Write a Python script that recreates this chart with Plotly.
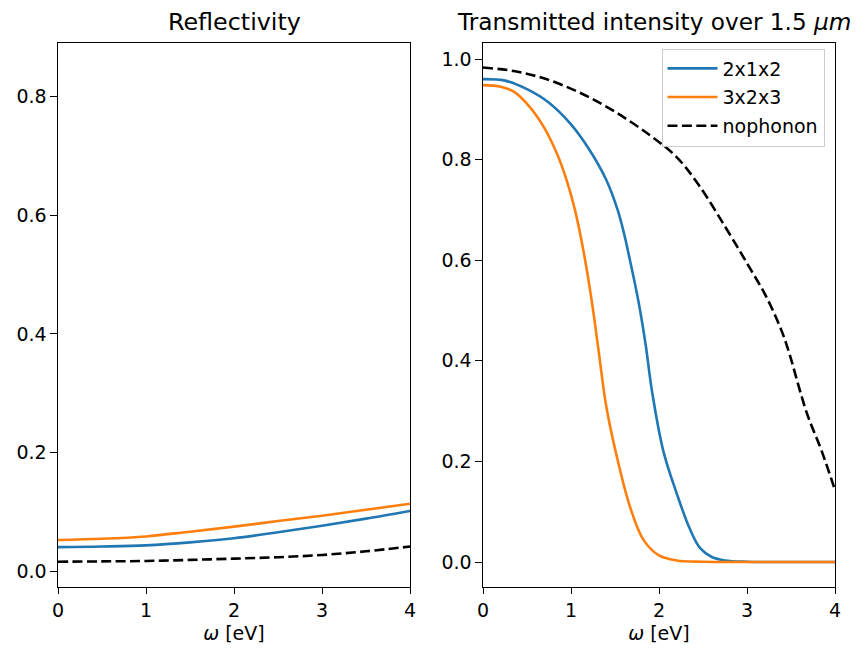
import plotly.graph_objects as go

# ---------------- data ----------------
# Reflectivity (left panel)
refl_x = [0.0, 0.5, 1.0, 1.5, 2.0, 2.5, 3.0, 3.5, 4.0]
refl_2x1x2 = [0.041, 0.042, 0.044, 0.049, 0.056, 0.066, 0.077, 0.089, 0.102]
refl_3x2x3 = [0.053, 0.055, 0.059, 0.067, 0.0755, 0.085, 0.094, 0.104, 0.114]
refl_nophonon = [0.0165, 0.017, 0.0177, 0.0195, 0.0216, 0.024, 0.0278, 0.034, 0.042]

# Transmitted intensity (right panel)
tr_x_2x1x2 = [0.0, 0.25, 0.5, 0.75, 1.0, 1.2, 1.4, 1.53, 1.6, 1.67, 1.77, 1.85, 1.92,
              2.05, 2.2, 2.35, 2.47, 2.6, 2.75, 3.0, 3.5, 4.0]
tr_2x1x2 = [0.960, 0.957, 0.940, 0.913, 0.870, 0.822, 0.760, 0.700, 0.655, 0.60, 0.515,
            0.43, 0.34, 0.22, 0.137, 0.066, 0.027, 0.01, 0.003, 0.0005, 0.0, 0.0]

tr_x_3x2x3 = [0.0, 0.2, 0.35, 0.53, 0.69, 0.84, 0.95, 1.045, 1.14, 1.235, 1.31, 1.4, 1.52,
              1.67, 1.82, 2.0, 2.2, 2.5, 3.0, 4.0]
tr_3x2x3 = [0.948, 0.945, 0.935, 0.905, 0.865, 0.812, 0.759, 0.700, 0.62, 0.52, 0.425, 0.31,
            0.21, 0.11, 0.045, 0.013, 0.003, 0.0005, 0.0, 0.0]

tr_x_nophonon = [0.0, 0.35, 0.7, 1.1, 1.5, 1.9, 2.2, 2.45, 2.75, 3.0, 3.22, 3.39,
                 3.47, 3.68, 3.85, 4.0]
tr_nophonon = [0.983, 0.976, 0.961, 0.933, 0.895, 0.848, 0.805, 0.750, 0.667, 0.594,
               0.527, 0.461, 0.421, 0.296, 0.22, 0.143]

series_names = ["2x1x2", "3x2x3", "nophonon"]
x_ticks = [0, 1, 2, 3, 4]
refl_y_ticks = [0.0, 0.2, 0.4, 0.6, 0.8]
tr_y_ticks = [0.0, 0.2, 0.4, 0.6, 0.8, 1.0]

# ---------------- styling ----------------
BLUE = "#1f77b4"
ORANGE = "#ff7f0e"
FONT = "DejaVu Sans"
LW = 2.6
DASH = "10px,4.4px"
TICK_FS = 19
TITLE_FS = 23.8
OFF = 8  # the page body has an 8px margin
PW, PH = 865, 652
W, H = PW - 2 * OFF, PH - 2 * OFF


def px(xp):
    return (xp - OFF) / W


def py(yp):
    return 1 - (yp - OFF) / H


fig = go.Figure()


def line(x, y, color, xa, ya, name=None, dash=None, group=None, legend=False):
    return go.Scatter(x=x, y=y, mode="lines", name=name,
                      line=dict(color=color, width=LW, dash=dash, shape="spline", smoothing=1.0),
                      xaxis=xa, yaxis=ya, showlegend=legend, legendgroup=group)


# left panel
fig.add_trace(line(refl_x, refl_2x1x2, BLUE, "x", "y"))
fig.add_trace(line(refl_x, refl_3x2x3, ORANGE, "x", "y"))
fig.add_trace(line(refl_x, refl_nophonon, "black", "x", "y", dash=DASH))

# right panel
fig.add_trace(line(tr_x_2x1x2, tr_2x1x2, BLUE, "x2", "y2", series_names[0], group="a", legend=True))
fig.add_trace(line(tr_x_3x2x3, tr_3x2x3, ORANGE, "x2", "y2", series_names[1], group="b", legend=True))
fig.add_trace(line(tr_x_nophonon, tr_nophonon, "black", "x2", "y2", series_names[2], dash=DASH,
                   group="c", legend=True))

ydom = [py(586.5), py(42.7)]

axis_common = dict(
    showline=True, linecolor="black", linewidth=1.4, mirror=True,
    ticks="outside", ticklen=6.4, tickwidth=1.4, tickcolor="black",
    showgrid=False, zeroline=False, automargin=False,
    tickfont=dict(family=FONT, size=TICK_FS, color="black"),
)

fig.update_layout(
    width=W, height=H,
    margin=dict(l=0, r=0, t=0, b=0),
    paper_bgcolor="white", plot_bgcolor="white",
    font=dict(family=FONT, size=TICK_FS, color="black"),
    xaxis=dict(domain=[px(58), px(410)], range=[0, 4], tickvals=x_ticks, anchor="y",
               title=dict(text="<i>ω</i> [eV]", font=dict(family=FONT, size=TICK_FS), standoff=9),
               **axis_common),
    yaxis=dict(domain=ydom, range=[-0.0253, 0.8906], tickvals=refl_y_ticks, tickformat=".1f",
               anchor="x", **axis_common),
    xaxis2=dict(domain=[px(483), px(835)], range=[0, 4], tickvals=x_ticks, anchor="y2",
                title=dict(text="<i>ω</i> [eV]", font=dict(family=FONT, size=TICK_FS), standoff=9),
                **axis_common),
    yaxis2=dict(domain=ydom, range=[-0.0487, 1.0324], tickvals=tr_y_ticks, tickformat=".1f",
                anchor="x2", **axis_common),
    legend=dict(x=px(824.5), xanchor="right", y=py(48.5), yanchor="top",
                bgcolor="rgba(255,255,255,0.8)", bordercolor="#cccccc", borderwidth=1,
                font=dict(family=FONT, size=TICK_FS), tracegroupgap=1, itemwidth=50),
    annotations=[
        dict(text="Reflectivity", x=px(234), y=py(22), xref="paper", yref="paper",
             showarrow=False, xanchor="center", yanchor="middle",
             font=dict(family=FONT, size=TITLE_FS, color="black")),
        dict(text="Transmitted intensity over 1.5 <i>μm</i>", x=px(654), y=py(22),
             xref="paper", yref="paper", showarrow=False, xanchor="center", yanchor="middle",
             font=dict(family=FONT, size=23.2, color="black")),
    ],
)

fig.write_html("out.html")
